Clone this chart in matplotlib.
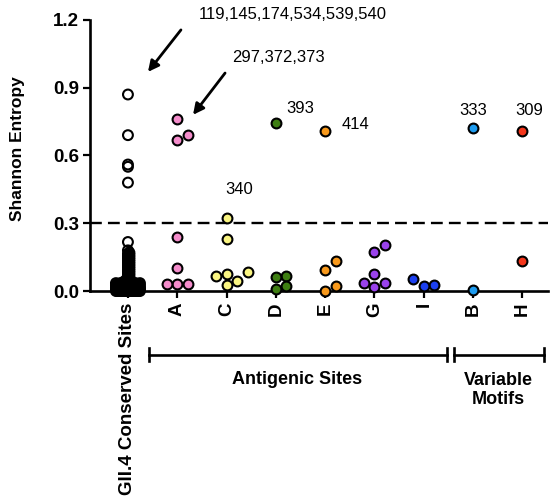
import numpy as np
import matplotlib
matplotlib.use("Agg")
import matplotlib.pyplot as plt
import matplotlib.transforms as mtransforms

plt.rcParams["font.family"] = ["Liberation Sans", "DejaVu Sans"]

# categories and entropy values
categories = ["GII.4 Conserved Sites", "A", "C", "D", "E", "G", "I", "B", "H"]
colors = ["none", "#F48CCB", "#FAF582", "#3E7E12", "#F8991C",
          "#9A42EC", "#1C40F0", "#1E9CF0", "#F4361B"]

# conserved sites: the spread-out ones, then the dense low-entropy pile
# given as entropy level + number of sites at that level
conserved_high = [0.87, 0.69, 0.56, 0.55, 0.48, 0.217, 0.18]
conserved_levels = [0.17, 0.165, 0.16, 0.155, 0.15, 0.145, 0.14, 0.135, 0.13,
                    0.125, 0.12, 0.115, 0.11, 0.105, 0.10, 0.095, 0.09,
                    0.085, 0.08, 0.075, 0.07, 0.065, 0.06, 0.055, 0.05,
                    0.045, 0.04, 0.035, 0.03, 0.025, 0.02, 0.015, 0.01,
                    0.005, 0.0]
conserved_counts = [1, 1, 1, 1, 1, 1, 1, 1, 1,
                    1, 1, 1, 1, 1, 1, 1, 1,
                    1, 1, 1, 1, 1, 1, 1, 1,
                    2, 3, 7, 11, 13, 15, 17, 17,
                    17, 17]
conserved_entropy = conserved_high + list(np.repeat(conserved_levels,
                                                    conserved_counts))

site_a = [0.76, 0.69, 0.67, 0.24, 0.10, 0.03, 0.03, 0.03]
site_c = [0.325, 0.23, 0.085, 0.075, 0.067, 0.045, 0.027]
site_d = [0.745, 0.067, 0.061, 0.02, 0.01]
site_e = [0.71, 0.133, 0.093, 0.02, 0.0]
site_g = [0.204, 0.173, 0.075, 0.036, 0.035, 0.018]
site_i = [0.052, 0.028, 0.02]
motif_b = [0.72, 0.005]
motif_h = [0.707, 0.133]
groups = [conserved_entropy, site_a, site_c, site_d, site_e, site_g,
          site_i, motif_b, motif_h]

threshold = 0.3
labels = [("393", 3.49, 0.81), ("414", 4.62, 0.735), ("340", 2.25, 0.45),
          ("333", 7.0, 0.797), ("309", 8.14, 0.797)]

fig = plt.figure(figsize=(5.52, 4.99), dpi=100)
ax = fig.add_axes([0.163, 0.4168, 0.8298, 0.5432])
xmin, xmax = -0.77, 8.52
ymin, ymax = 0.0, 1.2
ax.set_xlim(xmin, xmax)
ax.set_ylim(ymin, ymax)

# pixel scale, used to spread overlapping points sideways
x_px = 0.8298 * 552 / (xmax - xmin)
y_px = 0.5432 * 499 / (ymax - ymin)


def swarm(vals, diam, step, max_off):
    order = np.argsort(vals, kind="stable")
    cands = [0.0]
    k = 1
    while k * step <= max_off + 1e-9:
        cands += [k * step, -k * step]
        k += 1
    placed = []
    offs = np.zeros(len(vals))
    for i in order:
        y = vals[i] * y_px
        best, best_d = 0.0, -1
        for c in cands:
            d = min((np.hypot(c - px, y - py) for px, py in placed),
                    default=np.inf)
            if d >= diam:
                best = c
                break
            if d > best_d:
                best, best_d = c, d
        offs[i] = best
        placed.append((best, y))
    return offs / x_px


for i, (vals, col) in enumerate(zip(groups, colors)):
    vals = np.array(vals)
    if i == 0:
        offs = swarm(vals, 1.5, 1.5, 12)
    else:
        offs = swarm(vals, 10.5, 5.25, 30)
    ax.scatter(i + offs, vals, s=50, facecolor=col, edgecolor="black",
               linewidth=1.5, zorder=3, clip_on=False)

ax.axhline(threshold, color="black", lw=1.7, ls=(0, (5, 2.6)), zorder=2)

for txt, x, y in labels:
    ax.text(x, y, txt, fontsize=12, ha="center", va="center")

ax.text(3.34, 1.222, "119,145,174,534,539,540", fontsize=12,
        ha="center", va="center", clip_on=False)
ax.text(3.06, 1.036, "297,372,373", fontsize=12, ha="center", va="center")
arrow = dict(arrowstyle="-|>", lw=2, color="black", mutation_scale=16,
             shrinkA=0, shrinkB=0)
ax.annotate("", xy=(0.406, 0.97), xytext=(1.075, 1.156), arrowprops=arrow)
ax.annotate("", xy=(1.32, 0.78), xytext=(1.97, 0.965), arrowprops=arrow)

for side in ["top", "right"]:
    ax.spines[side].set_visible(False)
for side in ["left", "bottom"]:
    ax.spines[side].set_linewidth(1.9)

ax.set_yticks([0.0, 0.3, 0.6, 0.9, 1.2])
ax.set_yticklabels(["0.0", "0.3", "0.6", "0.9", "1.2"])
ax.set_xticks(range(len(categories)))
ax.set_xticklabels(categories, rotation=90)
ax.tick_params(axis="both", width=1.6, length=5, labelsize=13.5, pad=3)
for lab in ax.get_xticklabels() + ax.get_yticklabels():
    lab.set_fontweight("bold")
ax.set_ylabel("Shannon Entropy", fontsize=12.5, fontweight="bold")
ax.yaxis.set_label_coords(-0.142, 0.524)

# group brackets under the axis
trans = mtransforms.blended_transform_factory(ax.transData, ax.transAxes)
brackets = [(0.43, 6.47, "Antigenic Sites"), (6.61, 8.44, "Variable\nMotifs")]
by = -0.236
for x0, x1, name in brackets:
    ax.plot([x0, x1], [by, by], color="black", lw=1.9, transform=trans,
            clip_on=False)
    for xe in (x0, x1):
        ax.plot([xe, xe], [by - 0.024, by + 0.024], color="black", lw=1.9,
                transform=trans, clip_on=False)
ax.text(3.42, -0.325, "Antigenic Sites", fontsize=13, fontweight="bold",
        ha="center", va="center", transform=trans)
ax.text(7.52, -0.365, "Variable\nMotifs", fontsize=13, fontweight="bold",
        ha="center", va="center", transform=trans, linespacing=1.15)

fig.savefig("out.png", dpi=100)
